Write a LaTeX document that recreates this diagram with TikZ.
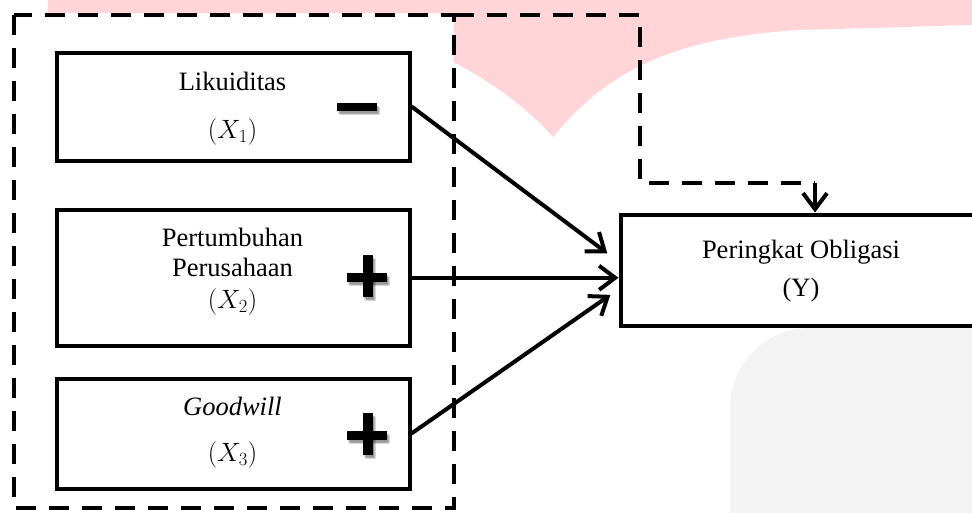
\RequirePackage{fix-cm}
\documentclass[tikz,border=0pt]{standalone}
\usepackage{fontspec}
\setmainfont{Liberation Serif}
\usetikzlibrary{arrows.meta,calc}
\definecolor{wmpink}{HTML}{FFD5D9}
\definecolor{wmgray}{HTML}{F3F3F3}
\tikzset{
  varbox/.style={draw,line width=4pt,fill=white,inner sep=0pt},
  lbl/.style={font=\fontsize{26.5}{30}\selectfont,inner sep=0pt},
  conn/.style={line width=4pt,-{Straight Barb[length=16pt,width=24pt]}},
  dashline/.style={line width=4pt,dash pattern=on 20pt off 13pt},
  signbar/.style={fill=black},
  signshadow/.style={fill=black,opacity=0.08},
}
\newcommand{\mysigns}[1]{%
  \fill[#1] (337,103) rectangle (377,111);
  \fill[#1] (363,255) rectangle (373,297);
  \fill[#1] (347,273) rectangle (387,282);
  \fill[#1] (363,413) rectangle (373,455);
  \fill[#1] (347,431) rectangle (387,440);
}
\begin{document}
\begin{tikzpicture}[x=1pt,y=-1pt]
\useasboundingbox (0,0) rectangle (972,512);
\clip (0,0) rectangle (972,512);
% watermark shapes
\fill[wmpink] (48,0) -- (972,0) -- (972,25) -- (800,30)
  .. controls (660,38) and (600,80) .. (553,137)
  .. controls (520,100) and (480,75) .. (440,55) -- (440,13) -- (48,13) -- cycle;
\fill[wmgray,rounded corners=80pt] (730,620) -- (730,328) -- (1100,328) -- (1100,620) -- cycle;
% dashed group
\filldraw[fill=white,draw=black,dashline] (14,15) rectangle (454,508);
\coordinate (dj) at (815,183);
\draw[dashline] (454,15) -- (640,15) -- (640,183) -- (dj);
% boxes
\node[varbox,minimum width=353pt,minimum height=108pt] (X1) at (233,106.5) {};
\node[varbox,minimum width=353pt,minimum height=136.5pt] (X2) at (233,277.75) {};
\node[varbox,minimum width=353pt,minimum height=110pt] (X3) at (233,433.5) {};
\node[varbox,minimum width=362pt,minimum height=111.5pt] (Y) at (801.5,270.25) {};
% labels
\node[lbl] (t1a) at (232.5,81) {Likuiditas};
\node[lbl] (t1b) at (232.5,132) {$(X_1)$};
\node[lbl] (t2a) at (232.5,237.5) {Pertumbuhan};
\node[lbl] (t2b) at (232.5,267.5) {Perusahaan};
\node[lbl] (t2c) at (232.5,302) {$(X_2)$};
\node[lbl] (t3a) at (232.5,406) {\itshape Goodwill};
\node[lbl] (t3b) at (232.5,455) {$(X_3)$};
\node[lbl] (tya) at (801,252) {Peringkat Obligasi};
\node[lbl] (tyb) at (801,290) {(Y)};
% signs with soft shadow
\foreach \dx/\dy in {1/2,2/3,3/4,2/4,3/3,1/3} {
  \begin{scope}[shift={(\dx,\dy)}]
    \mysigns{signshadow}
  \end{scope}
}
\mysigns{signbar}
% connectors
\draw[conn,shorten >=14pt] (X1.east) -- ($(Y.west)+(0,-8.6)$);
\draw[conn] (X2.east) -- (X2.east -| Y.west);
\draw[conn,shorten >=10pt] (X3.east) -- ($(Y.west)+(0,18.9)$);
\draw[conn] (dj) -- (dj |- Y.north);
\end{tikzpicture}
\end{document}
